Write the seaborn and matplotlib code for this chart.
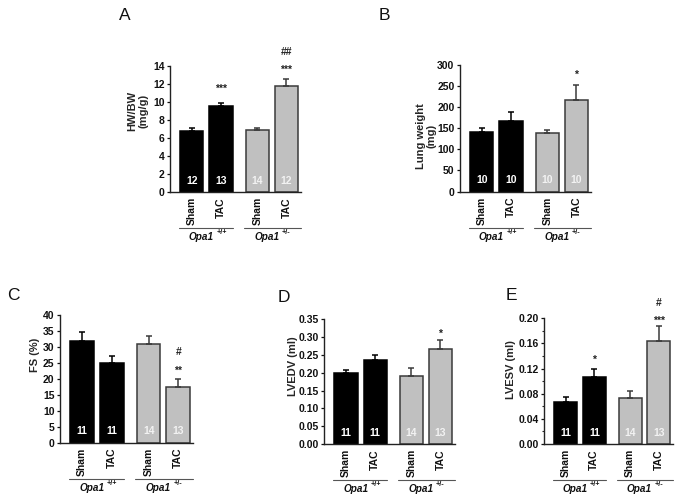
import matplotlib
matplotlib.use("Agg")
import matplotlib.pyplot as plt
import matplotlib.transforms as mtransforms
from matplotlib.lines import Line2D
from matplotlib.ticker import MultipleLocator
import numpy as np
import pandas as pd
import seaborn as sns

# ---------------- data ----------------
conditions = ["Sham", "TAC", "Sham", "TAC"]
genotypes = ["+/+", "+/+", "+/-", "+/-"]
positions = [0.0, 1.0, 2.25, 3.25]

hw_bw_mean = [6.8, 9.6, 6.9, 11.8]
hw_bw_sem = [0.3, 0.3, 0.25, 0.8]
hw_bw_n = [12, 13, 14, 12]

lung_mean = [142, 168, 139, 217]
lung_sem = [8, 20, 6, 36]
lung_n = [10, 10, 10, 10]

fs_mean = [32.0, 24.9, 30.9, 17.5]
fs_sem = [2.7, 2.3, 2.5, 2.4]
fs_n = [11, 11, 14, 13]

lvedv_mean = [0.198, 0.236, 0.191, 0.268]
lvedv_sem = [0.009, 0.014, 0.021, 0.024]
lvedv_n = [11, 11, 14, 13]

lvesv_mean = [0.067, 0.107, 0.073, 0.164]
lvesv_sem = [0.008, 0.013, 0.012, 0.024]
lvesv_n = [11, 11, 14, 13]

# significance marks: (bar index, text, y-center value)
hw_bw_marks = [(1, "***", 11.8), (3, "***", 13.9), (3, "##", 15.6)]
lung_marks = [(3, "*", 284)]
fs_marks = [(3, "**", 23.5), (3, "#", 28.5)]
lvedv_marks = [(3, "*", 0.318)]
lvesv_marks = [(1, "*", 0.138), (3, "***", 0.200), (3, "#", 0.226)]

# ---------------- style ----------------
sns.set_style("white")
plt.rcParams["font.family"] = ["Liberation Sans", "DejaVu Sans"]
plt.rcParams["font.weight"] = "bold"
plt.rcParams["axes.labelweight"] = "bold"

W, H = 684, 500
fig = plt.figure(figsize=(W / 100, H / 100), dpi=100)
fig.patch.set_facecolor("white")

bar_colors = {"+/+": "#000000", "+/-": "#C0C0C0"}
edge_colors = {"+/+": "#000000", "+/-": "#3A3A3A"}
text_colors = {"+/+": "#FFFFFF", "+/-": "#F2F2F2"}

panels = [
    dict(letter="A", box=(170, 301, 192, 66), letter_xy=(125, 16),
         mean=hw_bw_mean, sem=hw_bw_sem, n=hw_bw_n, marks=hw_bw_marks,
         ylim=14, step=2, minor=None, fmt="{:.0f}",
         ylabel="HW/BW\n(mg/g)", ylab_xy=(-0.245, 0.64)),
    dict(letter="B", box=(460, 591, 191.5, 65), letter_xy=(384, 16),
         mean=lung_mean, sem=lung_sem, n=lung_n, marks=lung_marks,
         ylim=300, step=50, minor=None, fmt="{:.0f}",
         ylabel="Lung weight\n(mg)", ylab_xy=(-0.26, 0.44)),
    dict(letter="C", box=(60, 193, 442.7, 315), letter_xy=(13, 296),
         mean=fs_mean, sem=fs_sem, n=fs_n, marks=fs_marks,
         ylim=40, step=5, minor=None, fmt="{:.0f}",
         ylabel="FS (%)", ylab_xy=(-0.19, 0.69)),
    dict(letter="D", box=(324.3, 455, 444, 319.3), letter_xy=(284, 297),
         mean=lvedv_mean, sem=lvedv_sem, n=lvedv_n, marks=lvedv_marks,
         ylim=0.35, step=0.05, minor=None, fmt="{:.2f}",
         ylabel="LVEDV (ml)", ylab_xy=(-0.243, 0.625)),
    dict(letter="E", box=(544.3, 673, 444, 318.3), letter_xy=(511, 295),
         mean=lvesv_mean, sem=lvesv_sem, n=lvesv_n, marks=lvesv_marks,
         ylim=0.20, step=0.04, minor=0.02, fmt="{:.2f}",
         ylabel="LVESV (ml)", ylab_xy=(-0.258, 0.59)),
]

for p in panels:
    l, r, b, t = p["box"]
    ax = fig.add_axes([l / W, 1 - b / H, (r - l) / W, (b - t) / H])
    df = pd.DataFrame({"pos": positions, "mean": p["mean"], "sem": p["sem"],
                       "n": p["n"], "cond": conditions, "geno": genotypes})
    for geno in ["+/+", "+/-"]:
        sub = df[df["geno"] == geno]
        sns.barplot(data=sub, x="pos", y="mean", native_scale=True, width=0.8,
                    color=bar_colors[geno], edgecolor=edge_colors[geno],
                    linewidth=1.1, saturation=1, errorbar=None, ax=ax)
        ax.errorbar(sub["pos"], sub["mean"],
                    yerr=[np.zeros(len(sub)), sub["sem"].to_numpy()],
                    fmt="none", ecolor=edge_colors[geno], elinewidth=1.1,
                    capsize=2.2, capthick=1.1)
    ax.set_xlim(-0.75, 3.75)
    ax.set_ylim(0, p["ylim"])
    ax.yaxis.set_major_locator(MultipleLocator(p["step"]))
    if p["minor"]:
        ax.yaxis.set_minor_locator(MultipleLocator(p["minor"]))
        ax.tick_params(axis="y", which="minor", length=1.5, width=0.8,
                       direction="out", left=True)
    ax.set_yticks(np.round(np.arange(0, p["ylim"] + p["step"] / 2, p["step"]), 4))
    ax.set_yticklabels([p["fmt"].format(v) for v in ax.get_yticks()])
    ax.set_xticks([])
    ax.set_xlabel("")
    ax.set_ylabel("")
    ax.tick_params(axis="y", which="major", direction="out", length=2.5,
                   width=0.9, pad=1.5, labelsize=7.5, left=True, colors="#111111")
    sns.despine(ax=ax)
    for s in ["left", "bottom"]:
        ax.spines[s].set_linewidth(1.0)
        ax.spines[s].set_color("#222222")

    ax.text(p["ylab_xy"][0], p["ylab_xy"][1], p["ylabel"], rotation=90,
            ha="center", va="center", transform=ax.transAxes, fontsize=8,
            fontweight="bold", linespacing=1.05)

    # n inside bars
    for pos, n, geno in zip(positions, p["n"], genotypes):
        ax.annotate(str(n), xy=(pos, 0), xycoords=("data", "axes fraction"),
                    xytext=(0, 11.5), textcoords="offset pixels",
                    ha="center", va="center", fontsize=7.5, fontweight="bold",
                    color=text_colors[geno])

    # significance marks
    for idx, txt, yv in p["marks"]:
        off = -4.2 if "*" in txt else -2.7
        ax.annotate(txt, xy=(positions[idx], yv), xycoords="data",
                    xytext=(0, off), textcoords="offset points",
                    ha="center", va="baseline", fontsize=7.5, fontweight="bold",
                    color="#222222", annotation_clip=False)

    # condition labels
    for pos, c in zip(positions, conditions):
        ax.annotate(c, xy=(pos, 0), xycoords=("data", "axes fraction"),
                    xytext=(0, -5), textcoords="offset pixels", rotation=90,
                    ha="center", va="top", fontsize=7.5, fontweight="bold",
                    color="#111111")

    # group lines and genotype labels
    blend = mtransforms.blended_transform_factory(ax.transData, ax.transAxes)
    line_tr = mtransforms.offset_copy(blend, fig=fig, x=0, y=-36, units="dots")
    for (x0, x1), gcenter, geno in [((-0.45, 1.4), 0.5, "+/+"),
                                    ((1.8, 3.75), 2.75, "+/-")]:
        ax.add_line(Line2D([x0, x1], [0, 0], transform=line_tr, color="#555555",
                           linewidth=0.8, clip_on=False))
        main = ax.annotate("Opa1", xy=(gcenter, 0),
                           xycoords=("data", "axes fraction"),
                           xytext=(-5, -45), textcoords="offset pixels",
                           ha="center", va="center", fontsize=7.2,
                           fontweight="bold", fontstyle="italic",
                           color="#111111")
        ax.annotate(geno, xy=(1, 0.55), xycoords=main, xytext=(2.5, 0),
                    textcoords="offset pixels", ha="left", va="bottom",
                    fontsize=5.2, fontweight="bold", color="#111111")

    lx, ly = p["letter_xy"]
    fig.text(lx / W, 1 - ly / H, p["letter"], ha="center", va="center",
             fontsize=12.5, fontweight="normal", color="#111111")

fig.savefig("out.png", dpi=100, facecolor="white")
